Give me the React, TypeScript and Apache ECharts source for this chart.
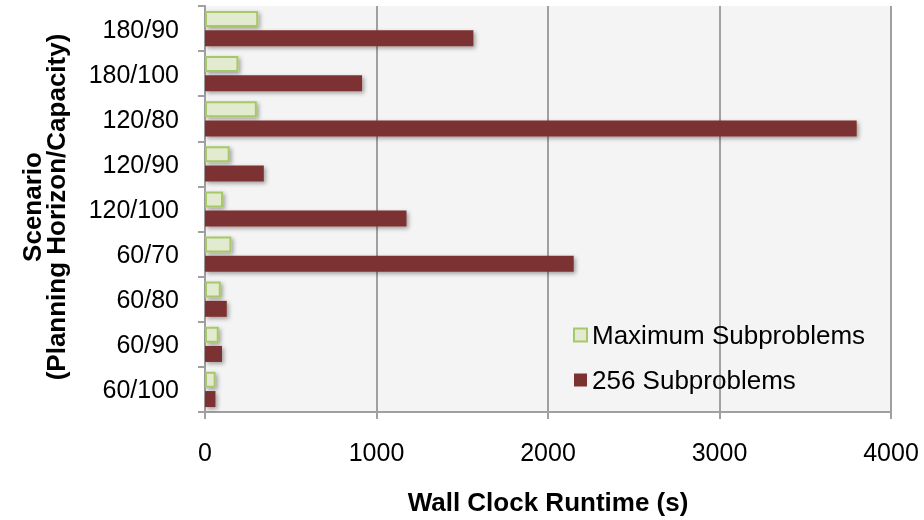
import React, { useEffect, useRef } from "react";
import * as echarts from "echarts";

const categories = ["180/90", "180/100", "120/80", "120/90", "120/100", "60/70", "60/80", "60/90", "60/100"];
const maxSubproblems = [310, 195, 302, 144, 105, 154, 92, 80, 62];
const subproblems256 = [1565, 916, 3800, 343, 1175, 2150, 127, 99, 61];
const xTicks = { min: 0, max: 4000, interval: 1000 };
const seriesNames = ["Maximum Subproblems", "256 Subproblems"];

const FONT = "'Liberation Sans', Arial, Helvetica, sans-serif";
const GRAY = "#a0a0a0";

export default function App() {
  const ref = useRef<HTMLDivElement>(null);
  useEffect(() => {
    if (!ref.current) return;
    const chart = echarts.init(ref.current, null, { renderer: "svg" });
    const shadow = { shadowColor: "rgba(0,0,0,0.35)", shadowBlur: 4, shadowOffsetX: 2, shadowOffsetY: 2 };
    chart.setOption({
      animation: false,
      textStyle: { fontFamily: FONT },
      grid: {
        left: 205, right: 33, top: 6, bottom: 107,
        show: true, backgroundColor: "#f4f4f4", borderWidth: 0,
      },
      xAxis: {
        type: "value",
        min: xTicks.min, max: xTicks.max, interval: xTicks.interval,
        name: "Wall Clock Runtime (s)",
        nameLocation: "middle",
        nameGap: 77,
        nameTextStyle: { fontFamily: FONT, fontSize: 26, fontWeight: "bold", color: "#000" },
        axisLine: { show: true, lineStyle: { color: GRAY, width: 2 } },
        axisTick: { show: true, length: 7, lineStyle: { color: GRAY, width: 2 } },
        axisLabel: { fontFamily: FONT, fontSize: 25, color: "#000", margin: 27, formatter: (v: number) => String(v) },
        splitLine: { show: true, lineStyle: { color: GRAY, width: 2 } },
      },
      yAxis: {
        type: "category",
        data: categories,
        inverse: true,
        axisLine: { show: true, lineStyle: { color: GRAY, width: 2 } },
        axisTick: { show: true, length: 7, lineStyle: { color: GRAY, width: 2 } },
        axisLabel: { fontFamily: FONT, fontSize: 25, color: "#000", margin: 26 },
        splitLine: { show: false },
      },
      legend: {
        orient: "vertical",
        left: 568,
        top: 317,
        itemWidth: 13,
        itemHeight: 13,
        itemGap: 19,
        textStyle: { fontFamily: FONT, fontSize: 26, color: "#000" },
        data: [
          { name: seriesNames[0], icon: "rect", itemStyle: { color: "#e2ebd0", borderColor: "#a7c866", borderWidth: 2, shadowBlur: 0, shadowOffsetX: 0, shadowOffsetY: 0 } },
          { name: seriesNames[1], icon: "rect", itemStyle: { color: "#7b3230", borderWidth: 0, shadowBlur: 0, shadowOffsetX: 0, shadowOffsetY: 0 } },
        ],
      },
      graphic: [
        {
          type: "text",
          x: 44,
          y: 207,
          rotation: Math.PI / 2,
          style: {
            text: "Scenario\n(Planning Horizon/Capacity)",
            fontFamily: FONT,
            fontSize: 26,
            fontWeight: "bold",
            fill: "#000",
            align: "center",
            verticalAlign: "middle",
            lineHeight: 24,
          },
        },
      ],
      series: [
        {
          name: seriesNames[0],
          type: "bar",
          data: maxSubproblems,
          barWidth: 16,
          barGap: "20%",
          itemStyle: { color: "#e2ebd0", borderColor: "#a7c866", borderWidth: 2, ...shadow },
        },
        {
          name: seriesNames[1],
          type: "bar",
          data: subproblems256,
          barWidth: 16,
          barGap: "20%",
          itemStyle: { color: "#7b3230", ...shadow },
        },
      ],
    });
    return () => chart.dispose();
  }, []);
  return <div ref={ref} style={{ position: "fixed", left: 0, top: 0, width: 924, height: 520 }} />;
}
